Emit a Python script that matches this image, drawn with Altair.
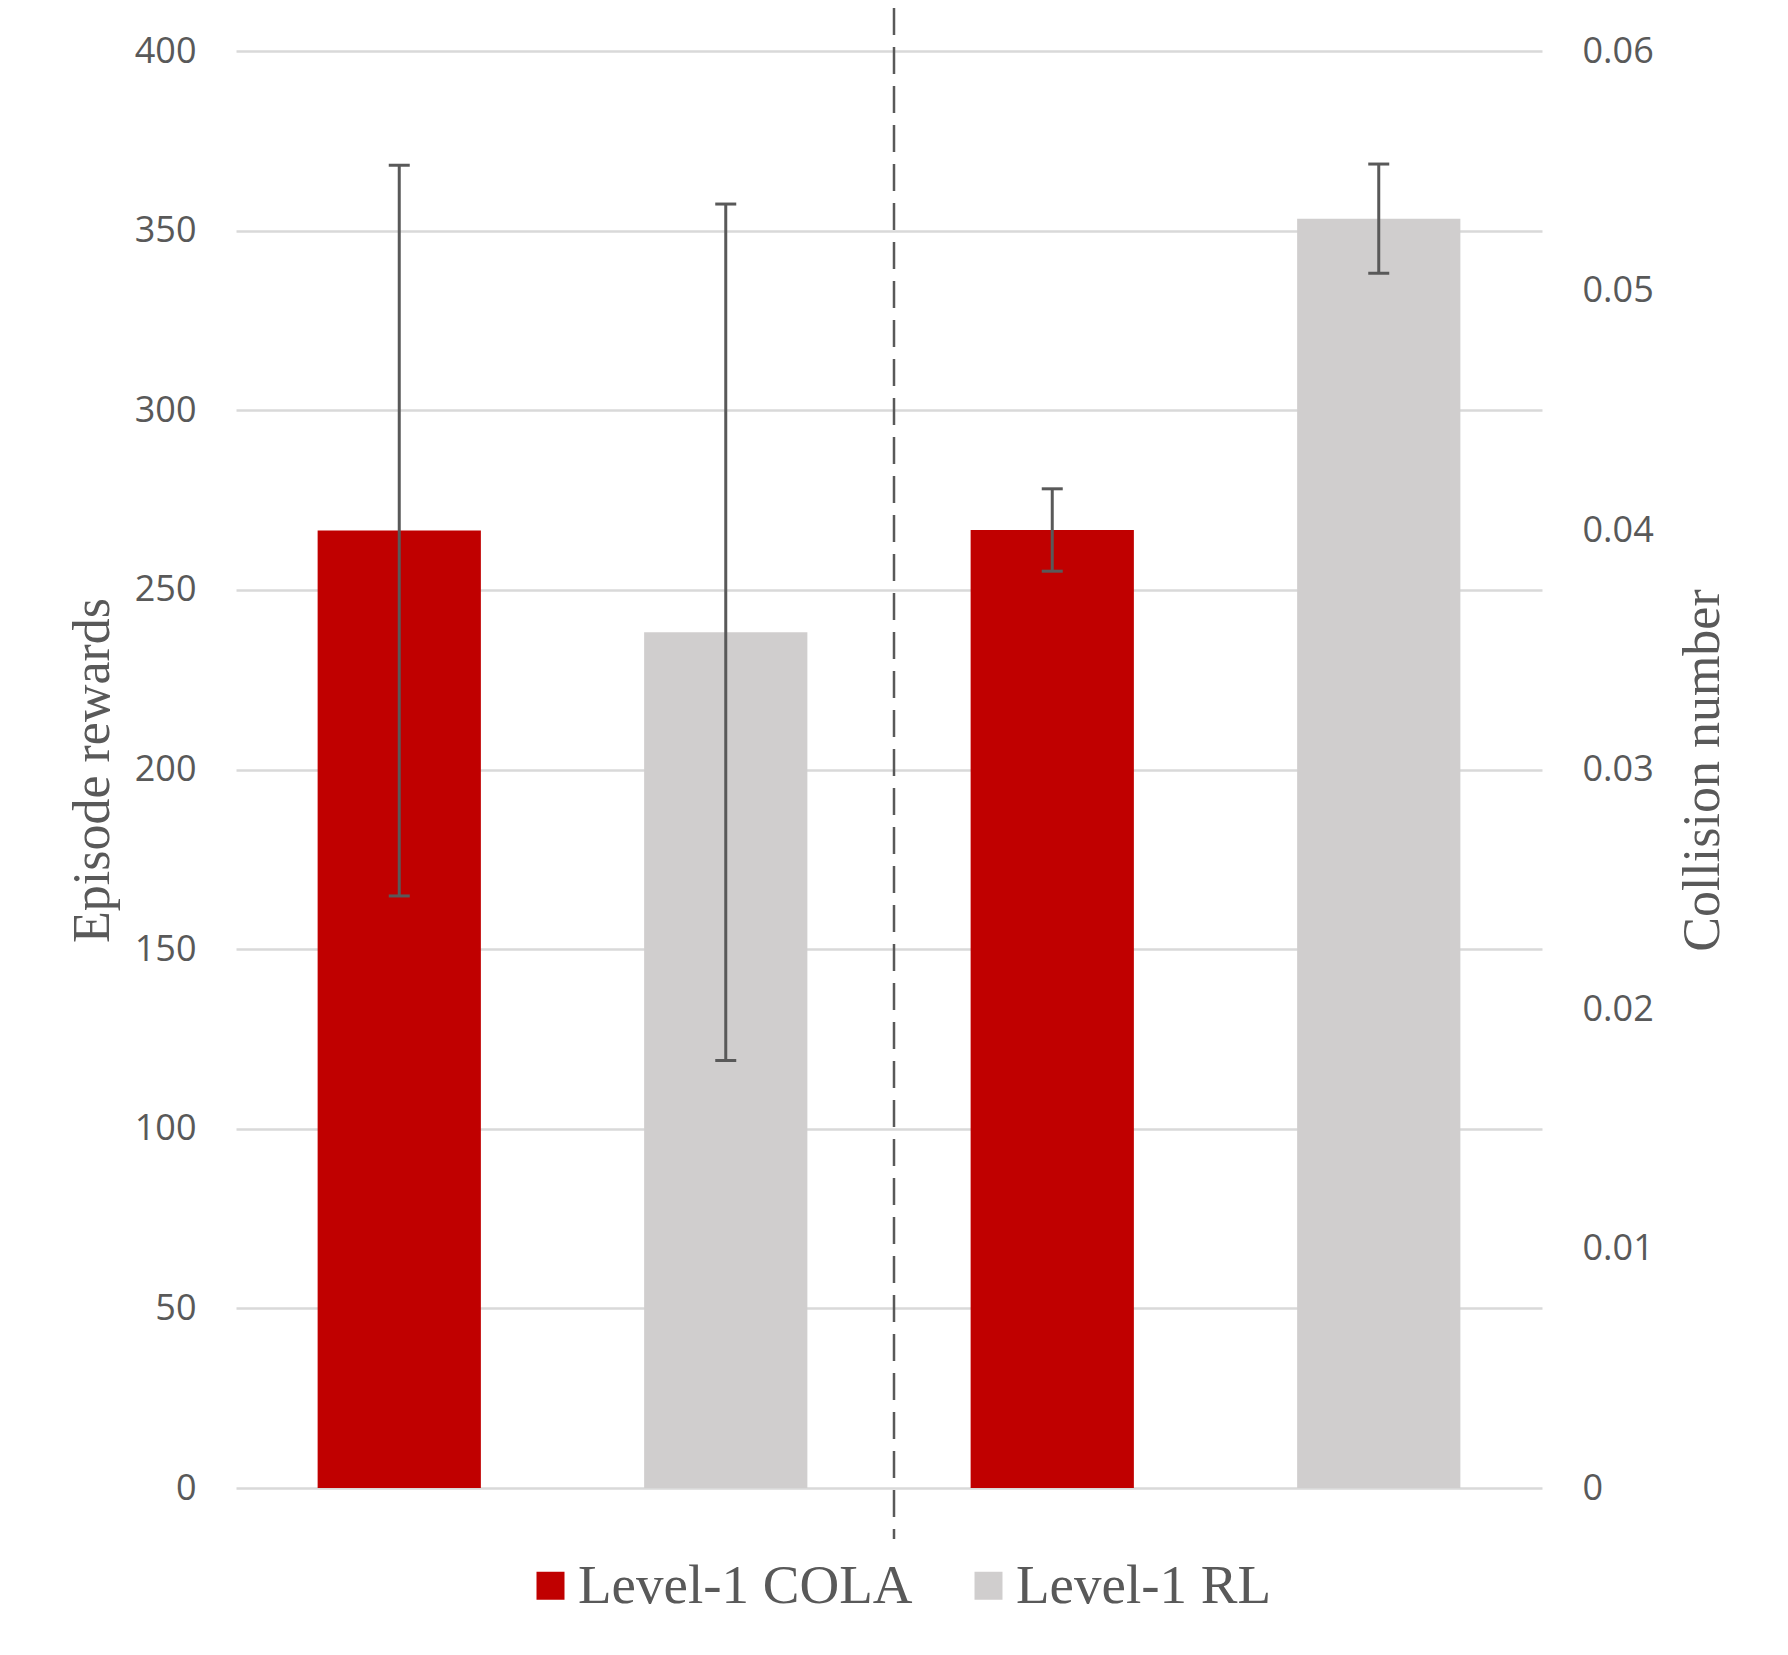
import altair as alt
import pandas as pd

# ---- data ----
methods = ["Level-1 COLA", "Level-1 RL"]
reward_mean = [266.5, 238.2]
reward_err = [101.7, 119.2]
collision_mean = [0.0400, 0.0530]
collision_err = [0.00172, 0.00228]
slots = ["reward_cola", "reward_rl", "collision_cola", "collision_rl"]
reward_ticks = [0, 50, 100, 150, 200, 250, 300, 350, 400]
collision_ticks = [0, 0.01, 0.02, 0.03, 0.04, 0.05, 0.06]

rew = pd.DataFrame({
    "slot": slots[:2],
    "method": methods,
    "mean": reward_mean,
    "lo": [m - e for m, e in zip(reward_mean, reward_err)],
    "hi": [m + e for m, e in zip(reward_mean, reward_err)],
})
col = pd.DataFrame({
    "slot": slots[2:],
    "method": methods,
    "mean": collision_mean,
    "lo": [m - e for m, e in zip(collision_mean, collision_err)],
    "hi": [m + e for m, e in zip(collision_mean, collision_err)],
})

W, H = 1306, 1437
TXT = "#595959"
x_enc = alt.X("slot:N", sort=slots,
              scale=alt.Scale(domain=slots, paddingInner=0.5, paddingOuter=0.25),
              axis=None)
color_enc = alt.Color("method:N",
                      scale=alt.Scale(domain=methods, range=["#C00000", "#D0CECE"]),
                      legend=alt.Legend(title=None, orient="none", legendX=287, legendY=1507,
                                        direction="horizontal", symbolType="square",
                                        symbolSize=784, symbolStrokeWidth=0,
                                        labelFont="Liberation Serif", labelFontSize=55,
                                        labelColor=TXT, labelOffset=0, columnPadding=48,
                                        labelLimit=0, padding=0, symbolOpacity=1))

left_axis = alt.Axis(values=reward_ticks, orient="left", domain=False, ticks=False,
                     grid=True, gridColor="#D9D9D9", gridWidth=2.5,
                     labelFont="Open Sans", labelFontSize=36, labelColor=TXT, labelPadding=40,
                     title="Episode rewards", titleFont="Liberation Serif", titleFontSize=52,
                     titleFontWeight="normal", titleColor=TXT, titleX=-144, titleY=719,
                     titleAngle=270, titleAlign="center", titleBaseline="middle")
right_axis = alt.Axis(values=collision_ticks, orient="right", domain=False, ticks=False,
                      grid=False, format="~g",
                      labelFont="Open Sans", labelFontSize=36, labelColor=TXT, labelPadding=40,
                      title="Collision number", titleFont="Liberation Serif", titleFontSize=52,
                      titleFontWeight="normal", titleColor=TXT, titleX=160, titleY=719,
                      titleAngle=270, titleAlign="center", titleBaseline="middle")

ry = alt.Scale(domain=[0, 400], nice=False)
cy = alt.Scale(domain=[0, 0.06], nice=False)

rb = alt.Chart(rew).mark_bar().encode(x=x_enc, y=alt.Y("mean:Q", scale=ry, axis=left_axis), color=color_enc)
rr = alt.Chart(rew).mark_rule(color=TXT, strokeWidth=3).encode(x=x_enc, y=alt.Y("lo:Q", scale=ry), y2="hi:Q")
rt1 = alt.Chart(rew).mark_tick(color=TXT, size=21, thickness=3, opacity=1).encode(x=x_enc, y=alt.Y("lo:Q", scale=ry))
rt2 = alt.Chart(rew).mark_tick(color=TXT, size=21, thickness=3, opacity=1).encode(x=x_enc, y=alt.Y("hi:Q", scale=ry))
rewards = alt.layer(rb, rr, rt1, rt2)

cb = alt.Chart(col).mark_bar().encode(x=x_enc, y=alt.Y("mean:Q", scale=cy, axis=right_axis), color=color_enc)
cr = alt.Chart(col).mark_rule(color=TXT, strokeWidth=3).encode(x=x_enc, y=alt.Y("lo:Q", scale=cy), y2="hi:Q")
ct1 = alt.Chart(col).mark_tick(color=TXT, size=21, thickness=3, opacity=1).encode(x=x_enc, y=alt.Y("lo:Q", scale=cy))
ct2 = alt.Chart(col).mark_tick(color=TXT, size=21, thickness=3, opacity=1).encode(x=x_enc, y=alt.Y("hi:Q", scale=cy))
collisions = alt.layer(cb, cr, ct1, ct2)

divider = alt.Chart(pd.DataFrame({"d": [0]})).mark_rule(
    color="#595959", strokeWidth=2.5, strokeDash=[27, 12]
).encode(x=alt.value(658), y=alt.value(-43), y2=alt.value(1488))

chart = alt.layer(rewards, collisions, divider).resolve_scale(y="independent").properties(
    width=W, height=H,
    autosize=alt.AutoSizeParams(type="none"),
    padding={"left": 228, "top": 43, "right": 238, "bottom": 160},
    background="white",
).configure_view(stroke=None)

chart.save("out.html", embed_options={"renderer": "svg", "actions": False})
